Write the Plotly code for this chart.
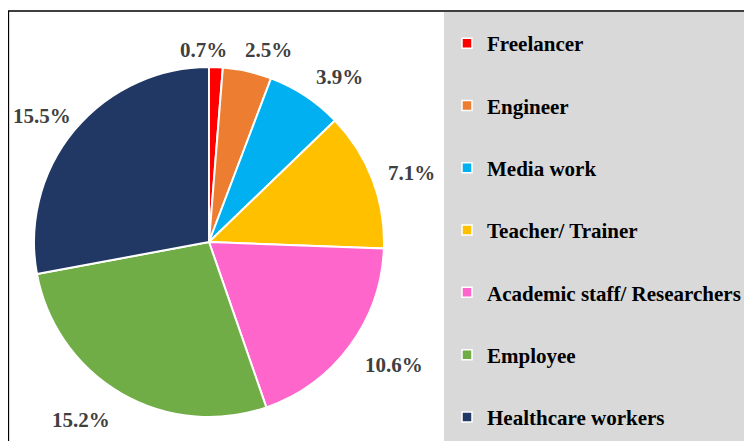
import math
import plotly.graph_objects as go

# ---- data ----
categories = ["Freelancer", "Engineer", "Media work", "Teacher/ Trainer",
              "Academic staff/ Researchers", "Employee", "Healthcare workers"]
values = [0.7, 2.5, 3.9, 7.1, 10.6, 15.2, 15.5]
label_texts = ["0.7%", "2.5%", "3.9%", "7.1%", "10.6%", "15.2%", "15.5%"]

# ---- style ----
colors = ["#FF0000", "#ED7D31", "#00B0F0", "#FFC000", "#FF66CC", "#70AD47", "#213764"]
label_nudges = [(-14, 18), (14, 13), (15, 10), (6, 6), (16, -2), (-22, -4), (-5, 8)]
W, H = 752, 441
OFF = 8                              # page body margin compensation
CX, CY, R = 209 - OFF, 242 - OFF, 175   # pie centre / radius in figure pixels
LABEL_DIST = 1.2 * R
FONT = "Liberation Serif"

fig = go.Figure()

fig.add_trace(go.Pie(
    labels=categories, values=values, sort=False, direction="clockwise", rotation=0,
    marker=dict(colors=colors, line=dict(color="white", width=2)),
    textinfo="none", hoverinfo="label+percent", showlegend=False,
    domain=dict(x=[(CX - R) / W, (CX + R) / W], y=[1 - (CY + R) / H, 1 - (CY - R) / H]),
))

# legend entries (one group each so they can be spaced)
for cat, col in zip(categories, colors):
    fig.add_trace(go.Scatter(
        x=[None], y=[None], mode="markers", name=cat, legendgroup=cat,
        marker=dict(symbol="square", size=10, color=col, line=dict(color="white", width=1.5)),
        showlegend=True,
    ))

# data labels placed at each slice's mid angle
total = sum(values)
cum = 0.0
annotations = []
for v, txt, (nx, ny) in zip(values, label_texts, label_nudges):
    mid = (cum + v / 2) / total * 2 * math.pi
    cum += v
    px = CX + LABEL_DIST * math.sin(mid) + nx
    py = CY - LABEL_DIST * math.cos(mid) + ny
    annotations.append(dict(
        x=px / W, y=1 - py / H, xref="paper", yref="paper", text=txt, showarrow=False,
        xanchor="center", yanchor="middle",
        font=dict(family=FONT, size=21, color="#404040", weight="bold"),
    ))

shapes = [
    # gray legend panel
    dict(type="rect", xref="paper", yref="paper", x0=(444 - OFF) / W, x1=1.05, y0=-0.05,
         y1=1 - (12 - OFF) / H, fillcolor="#D9D9D9", line=dict(width=0), layer="below"),
    # outer chart border
    dict(type="rect", xref="paper", yref="paper", x0=(8.5 - OFF) / W, x1=1.1, y0=-0.1,
         y1=1 - (11 - OFF) / H, fillcolor="rgba(0,0,0,0)", line=dict(color="black", width=1.3),
         layer="above"),
]

fig.update_layout(
    width=W, height=H, margin=dict(l=0, r=0, t=0, b=0),
    paper_bgcolor="white", plot_bgcolor="rgba(0,0,0,0)",
    xaxis=dict(visible=False), yaxis=dict(visible=False),
    showlegend=True,
    legend=dict(
        x=(447 - OFF) / W, y=1 - (23 - OFF) / H, xanchor="left", yanchor="top",
        bgcolor="rgba(0,0,0,0)", borderwidth=0,
        font=dict(family=FONT, size=21, color="black", weight="bold"),
        tracegroupgap=32, traceorder="grouped", itemsizing="trace",
    ),
    annotations=annotations, shapes=shapes,
)

fig.write_html("out.html")
